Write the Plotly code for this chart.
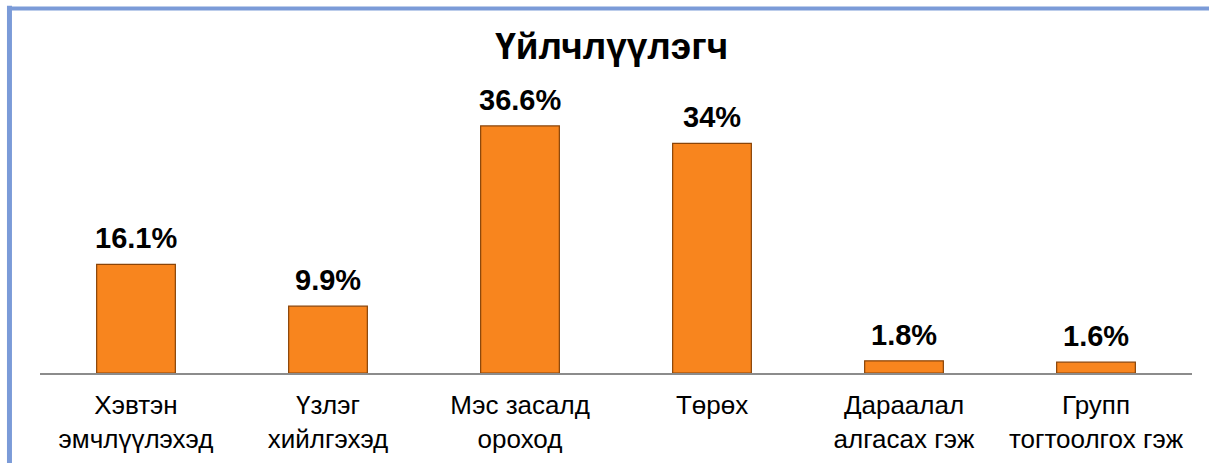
import plotly.graph_objects as go

categories = ["Хэвтэн<br>эмчлүүлэхэд", "Үзлэг<br>хийлгэхэд", "Мэс засалд<br>ороход",
              "Төрөх", "Дараалал<br>алгасах гэж", "Групп<br>тогтоолгох гэж"]
values = [16.1, 9.9, 36.6, 34, 1.8, 1.6]
labels = ["16.1%", "9.9%", "36.6%", "34%", "1.8%", "1.6%"]
title_text = "Үйлчлүүлэгч"

FONT = "Liberation Sans, Arial, sans-serif"

fig = go.Figure()
fig.add_trace(go.Bar(
    x=categories, y=values,
    marker=dict(color="#F8851E", line=dict(color="#8A4408", width=1.2)),
    width=0.41,
    hoverinfo="skip",
))

for c, v, t in zip(categories, values, labels):
    fig.add_annotation(x=c, y=v, text="<b>%s</b>" % t, showarrow=False,
                       yanchor="bottom", yshift=8,
                       font=dict(family=FONT, size=29, color="#000000"))

# frame lines (left and top) in light blue
border = "#7B9BD8"
fig.add_shape(type="line", xref="paper", yref="paper",
              x0=-0.0286, x1=1.02, y0=1.3352, y1=1.3352,
              line=dict(color=border, width=4))
fig.add_shape(type="line", xref="paper", yref="paper",
              x0=-0.0265, x1=-0.0265, y0=1.345, y1=-0.34,
              line=dict(color=border, width=5))

fig.update_layout(
    width=1209, height=463,
    margin=dict(l=40, r=17, t=100, b=90),
    paper_bgcolor="white", plot_bgcolor="white",
    showlegend=False,
    title=dict(text="<b>%s</b>" % title_text, x=0.506, xanchor="center",
               y=0.9, yanchor="middle",
               font=dict(family=FONT, size=37, color="#000000")),
    font=dict(family=FONT),
    xaxis=dict(showline=True, linecolor="#8C8C8C", linewidth=1.5,
               ticks="", showgrid=False, zeroline=False, automargin=False,
               tickfont=dict(family=FONT, size=26, color="#000000"),
               ticklabelstandoff=8),
    yaxis=dict(range=[0, 40.44], visible=False, showgrid=False, zeroline=False,
               automargin=False),
)

fig.write_html("out.html", config={"displayModeBar": False},
               post_script="document.body.style.margin='0';document.body.style.overflow='hidden';")
